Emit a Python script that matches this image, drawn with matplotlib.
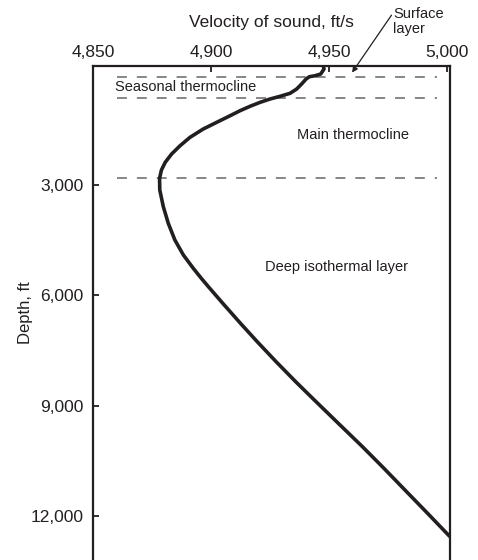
import numpy as np
import matplotlib
matplotlib.use('Agg')
import matplotlib.pyplot as plt

plt.rcParams['font.family'] = ['Liberation Sans', 'DejaVu Sans']

# sound velocity profile (ft/s vs ft)
velocity = [4947.6, 4947.9, 4946.5, 4944.1, 4941.7, 4940.3, 4938.4, 4936.3, 4933.5,
            4929.2, 4925.0, 4920.8, 4916.5, 4912.3, 4908.1, 4902.4, 4896.7, 4891.1,
            4886.9, 4883.3, 4880.6, 4879.0, 4878.2, 4878.3, 4879.8, 4881.9, 4884.7,
            4888.3, 4892.5, 4895.9, 4898.9, 4905.0, 4912.5, 4919.6, 4927.6, 4935.9,
            4943.8, 4954.7, 4964.2, 4973.3, 4982.9, 4991.8, 5001.3]
depth = [-240, -155, -19, 27, 54, 117, 253, 389, 506,
         588, 661, 751, 860, 979, 1115, 1295, 1477, 1703,
         1931, 2157, 2383, 2592, 2818, 3136, 3590, 4042, 4496,
         4904, 5266, 5538, 5766, 6218, 6762, 7262, 7806, 8350,
         8848, 9528, 10118, 10706, 11342, 11930, 12566]

# layer boundaries (ft)
boundaries = [60, 620, 2800]

xticks = [4850, 4900, 4950, 5000]
yticks = [3000, 6000, 9000, 12000]

ink = '#231f20'

fig = plt.figure(figsize=(4.78, 5.6), dpi=100)
ax = fig.add_axes([0.1946, 0.0, 0.7468, 0.8821])

for b in boundaries:
    ax.plot([4860, 4996], [b, b], color='#666666', lw=1.1, dashes=(6.5, 6.5), zorder=1)

ax.plot(velocity, depth, color=ink, lw=2.6, solid_joinstyle='round',
        solid_capstyle='butt', zorder=3)

ax.set_xlim(4850, 5001.3)
ax.set_ylim(13200, -237)

ax.xaxis.tick_top()
ax.xaxis.set_label_position('top')
ax.set_xticks(xticks)
ax.set_xticklabels([f'{v:,}' for v in xticks])
ax.set_yticks(yticks)
ax.set_yticklabels([f'{v:,}' for v in yticks])
ax.tick_params(direction='in', length=4, width=1.3, colors=ink, labelsize=12.5, pad=7)
ax.tick_params(axis='x', pad=4)

ax.set_xlabel('Velocity of sound, ft/s', fontsize=12.5, color=ink, labelpad=13)
ax.set_ylabel('Depth, ft', fontsize=12, color=ink, labelpad=-2)

ax.spines['bottom'].set_visible(False)
for s in ['top', 'left', 'right']:
    ax.spines[s].set_linewidth(1.6)
    ax.spines[s].set_color(ink)

ax.text(4859.3, 335, 'Seasonal thermocline', fontsize=10.5, color=ink, va='center', ha='left')
ax.text(4936.4, 1640, 'Main thermocline', fontsize=10.5, color=ink, va='center', ha='left')
ax.text(4922.9, 5220, 'Deep isothermal layer', fontsize=10.5, color=ink, va='center', ha='left')

ax.text(4977.1, -1450, 'Surface\nlayer', fontsize=10.5, color=ink, va='center', ha='left',
        linespacing=1.15, clip_on=False)
ax.annotate('', xy=(4959.8, -60), xytext=(4976.5, -1620),
            arrowprops=dict(arrowstyle='-|>', color=ink, lw=0.9, mutation_scale=8,
                            shrinkA=0, shrinkB=0),
            annotation_clip=False)

fig.savefig('out.png', dpi=100)
